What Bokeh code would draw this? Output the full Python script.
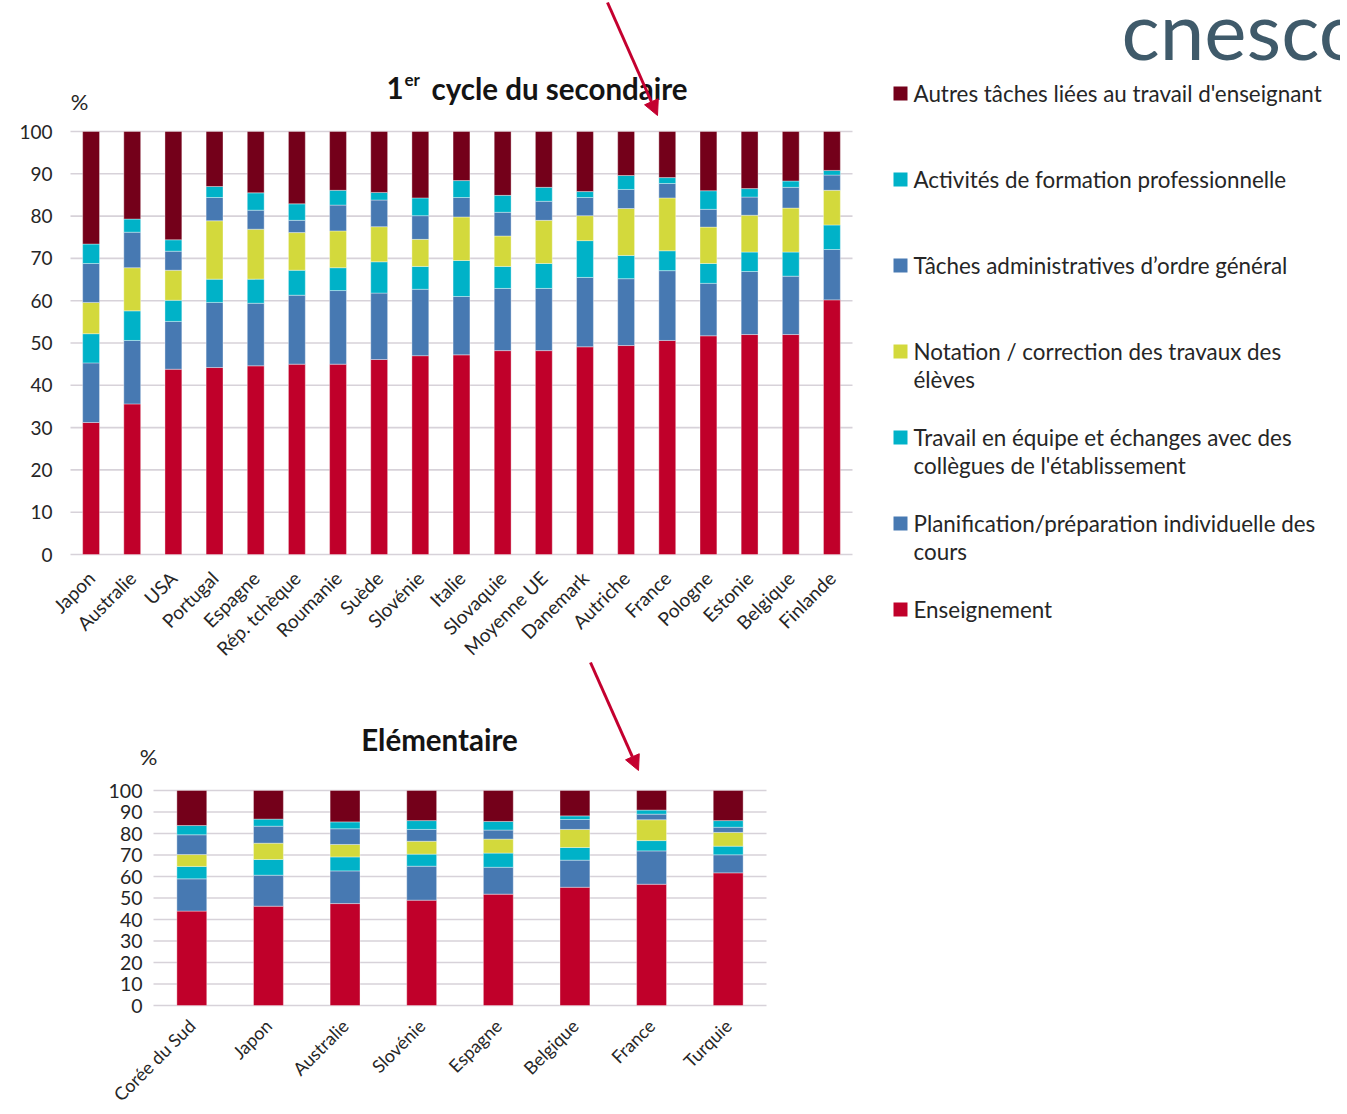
from bokeh.plotting import figure
from bokeh.models import Label, Arrow, NormalHead, Range1d, FixedTicker, ColumnDataSource
from bokeh.layouts import column, row
from bokeh.embed import file_html
from bokeh.resources import INLINE
from bokeh.core.properties import value

# ---------------- data ----------------
legend_labels = [
    "Enseignement",
    "Planification/préparation individuelle des\ncours",
    "Travail en équipe et échanges avec des\ncollègues de l'établissement",
    "Notation / correction des travaux des\nélèves",
    "Tâches administratives d’ordre général",
    "Activités de formation professionnelle",
    "Autres tâches liées au travail d'enseignant",
]
series_colors = ["#C0002A", "#4779B2", "#00B2C8", "#D3D93C", "#4779B2", "#00B2C8", "#74001A"]

sec_countries = ["Japon", "Australie", "USA", "Portugal", "Espagne", "Rép. tchèque", "Roumanie",
                 "Suède", "Slovénie", "Italie", "Slovaquie", "Moyenne UE", "Danemark", "Autriche",
                 "France", "Pologne", "Estonie", "Belgique", "Finlande"]
sec_enseignement = [31.2, 35.6, 43.8, 44.2, 44.6, 45.0, 45.0, 46.1, 47.0, 47.2, 48.2, 48.2, 49.1, 49.4, 50.6, 51.7, 52.0, 52.0, 60.2]
sec_planification = [14.1, 15.0, 11.3, 15.4, 14.8, 16.3, 17.4, 15.7, 15.7, 13.8, 14.7, 14.7, 16.4, 15.8, 16.5, 12.4, 14.9, 13.8, 11.9]
sec_equipe = [6.9, 7.0, 5.0, 5.5, 5.7, 5.9, 5.4, 7.4, 5.4, 8.5, 5.2, 5.9, 8.7, 5.5, 4.7, 4.7, 4.6, 5.7, 5.8]
sec_notation = [7.4, 10.2, 7.1, 13.8, 11.8, 8.9, 8.7, 8.3, 6.4, 10.3, 7.2, 10.2, 5.9, 11.1, 12.5, 8.6, 8.7, 10.4, 8.2]
sec_admin = [9.2, 8.4, 4.5, 5.5, 4.5, 2.9, 6.1, 6.3, 5.6, 4.6, 5.6, 4.5, 4.3, 4.5, 3.4, 4.2, 4.3, 4.9, 3.6]
sec_formation = [4.6, 3.1, 2.7, 2.6, 4.1, 3.9, 3.5, 1.8, 4.2, 4.0, 4.0, 3.3, 1.4, 3.3, 1.4, 4.4, 2.0, 1.5, 1.1]
sec_autres = [26.6, 20.7, 25.6, 13.0, 14.5, 17.1, 13.9, 14.4, 15.7, 11.6, 15.1, 13.2, 14.2, 10.4, 10.9, 14.0, 13.5, 11.7, 9.2]

elem_countries = ["Corée du Sud", "Japon", "Australie", "Slovénie", "Espagne", "Belgique", "France", "Turquie"]
elem_enseignement = [43.9, 46.2, 47.4, 49.0, 51.8, 55.0, 56.4, 61.7]
elem_planification = [15.0, 14.4, 15.2, 15.8, 12.5, 12.6, 15.5, 8.4]
elem_equipe = [5.8, 7.3, 6.5, 5.6, 6.6, 5.9, 4.8, 4.0]
elem_notation = [5.5, 7.6, 5.8, 6.0, 6.5, 8.4, 9.7, 6.4]
elem_admin = [9.2, 7.9, 7.3, 5.5, 4.2, 4.6, 2.6, 2.4]
elem_formation = [4.3, 3.3, 3.2, 4.1, 4.0, 1.7, 1.9, 3.1]
elem_autres = [16.3, 13.3, 14.6, 14.0, 14.4, 11.8, 9.1, 14.0]

y_ticks = [0, 10, 20, 30, 40, 50, 60, 70, 80, 90, 100]

# ---------------- styling ----------------
FONT = "Lato"
TEXT_COLOR = "#262626"
TITLE_COLOR = "#141414"
GRID_COLOR = "#D7D2D9"
ARROW_COLOR = "#C4002F"
stack_keys = ["s%d" % i for i in range(7)]


class Chart:
    """Stacked-bar chart whose frame fills the whole figure; the axes are pinned
    (fixed_location) to the chart's own edges, so decorations can sit anywhere.
    Geometry in page pixels: origin (x of first category's left edge),
    cat_px (px per category), unit_px (px per %), zero_py (y of 0 %)."""

    def __init__(self, countries, cols, fig_top, width, height, origin, cat_px, unit_px,
                 zero_py, bar_width, ytick_size, xlabel_size, y_standoff, x_standoff):
        self.origin, self.cat_px, self.unit_px, self.zero_py = origin, cat_px, unit_px, zero_py
        x_start = -0.5 - origin / cat_px
        x_end = x_start + width / cat_px
        y_start = (zero_py - (fig_top + height)) / unit_px
        y_end = (zero_py - fig_top) / unit_px
        p = figure(width=width, height=height, title=None,
                   x_range=Range1d(x_start, x_end), y_range=Range1d(y_start, y_end),
                   output_backend="svg", toolbar_location=None,
                   min_border_left=0, min_border_top=0, min_border_right=0, min_border_bottom=0)
        n = len(countries)
        xs = list(range(n))
        p.segment(x0=[-0.5] * len(y_ticks), x1=[n - 0.5] * len(y_ticks), y0=y_ticks, y1=y_ticks,
                  line_color=GRID_COLOR, line_width=1.6)
        src = ColumnDataSource(dict(x=xs, **{k: v for k, v in zip(stack_keys, cols)}))
        p.vbar_stack(stack_keys, x="x", width=bar_width, color=series_colors, source=src,
                     line_color="white", line_width=0.6, line_alpha=0.6)
        p.grid.visible = False
        p.outline_line_color = None
        p.yaxis.ticker = FixedTicker(ticks=y_ticks)
        p.xaxis.ticker = FixedTicker(ticks=xs)
        p.xaxis.major_label_overrides = {i: c for i, c in zip(xs, countries)}
        p.xaxis.fixed_location = 0
        p.yaxis.fixed_location = -0.5
        for ax in (p.xaxis, p.yaxis):
            ax.axis_line_color = None
            ax.major_tick_line_color = None
            ax.minor_tick_line_color = None
            ax.major_tick_out = 0
            ax.major_tick_in = 0
            ax.minor_tick_out = 0
            ax.major_label_text_font = FONT
            ax.major_label_text_color = TEXT_COLOR
        p.yaxis.major_label_text_font_size = ytick_size
        p.xaxis.major_label_text_font_size = xlabel_size
        p.xaxis.major_label_orientation = 0.785398
        p.xaxis.major_label_standoff = x_standoff
        p.yaxis.major_label_standoff = y_standoff
        self.p = p

    # page pixel -> data coordinates (for decorations only)
    def dx(self, px):
        return (px - self.origin) / self.cat_px - 0.5

    def dy(self, py):
        return (self.zero_py - py) / self.unit_px

    def label(self, px, py, text, size, bold=False, align="left", color=TITLE_COLOR):
        self.p.add_layout(Label(x=self.dx(px), y=self.dy(py), text=text, text_font=FONT,
                                text_font_style="bold" if bold else "normal",
                                text_font_size=size, text_color=color,
                                text_baseline="middle", text_align=align))

    def arrow(self, p0, p1):
        self.p.add_layout(Arrow(end=NormalHead(size=15, fill_color=ARROW_COLOR, line_color=ARROW_COLOR),
                                x_start=self.dx(p0[0]), y_start=self.dy(p0[1]),
                                x_end=self.dx(p1[0]), y_end=self.dy(p1[1]),
                                line_color=ARROW_COLOR, line_width=3))


# ---------------- top chart (legend and logo inside its frame) ----------------
TOP_H = 660
top = Chart(sec_countries,
            [sec_enseignement, sec_planification, sec_equipe, sec_notation, sec_admin, sec_formation, sec_autres],
            fig_top=0, width=1340, height=TOP_H, origin=70, cat_px=782 / 19, unit_px=4.23,
            zero_py=554, bar_width=0.41,
            ytick_size="19px", xlabel_size="19px", y_standoff=18, x_standoff=20)
top.label(403, 87.5, "1", "29.5px", bold=True, align="right")
top.label(404, 78.5, "er", "17px", bold=True)
top.label(431, 87.5, "cycle du secondaire", "29.5px", bold=True)
top.label(79, 101, "%", "22px", align="center", color=TEXT_COLOR)
top.arrow((607, 2), (657, 115))

order = list(range(6, -1, -1))
sq_x, sq_y, sq_c, tx, ty, tt = [], [], [], [], [], []
for pos, si in enumerate(order):
    mid = 93 + 86 * pos
    sq_x.append(top.dx(900))
    sq_y.append(top.dy(mid))
    sq_c.append(series_colors[si])
    for li, line in enumerate(legend_labels[si].split("\n")):
        tx.append(top.dx(913))
        ty.append(top.dy(mid + 28 * li))
        tt.append(line)
top.p.scatter(x=sq_x, y=sq_y, marker="square", size=14, fill_color=sq_c, line_color=None)
top.p.text(x=tx, y=ty, text=tt, text_font=value(FONT), text_font_size="22.4px",
           text_color=TEXT_COLOR, text_baseline="middle", text_align="left")
top.p.text(x=[top.dx(1121)], y=[top.dy(28)], text=["cnesco"], text_font=value(FONT),
           text_font_size="80px", text_color="#3F5A6A", text_baseline="alphabetic", text_align="left")

# ---------------- bottom chart ----------------
BOT_H = 450
bottom = Chart(elem_countries,
               [elem_enseignement, elem_planification, elem_equipe, elem_notation, elem_admin, elem_formation, elem_autres],
               fig_top=TOP_H, width=870, height=BOT_H, origin=153, cat_px=613 / 8, unit_px=2.15,
               zero_py=1005, bar_width=0.39,
               ytick_size="19.5px", xlabel_size="18px", y_standoff=11, x_standoff=17)
bottom.label(439, 739, "Elémentaire", "29.5px", bold=True, align="center")
bottom.label(148, 756, "%", "22px", align="center", color=TEXT_COLOR)
bottom.arrow((590, 662), (638, 770))

layout = column(row(top.p), row(bottom.p), spacing=0)
open("out.html", "w").write(file_html(layout, INLINE))
